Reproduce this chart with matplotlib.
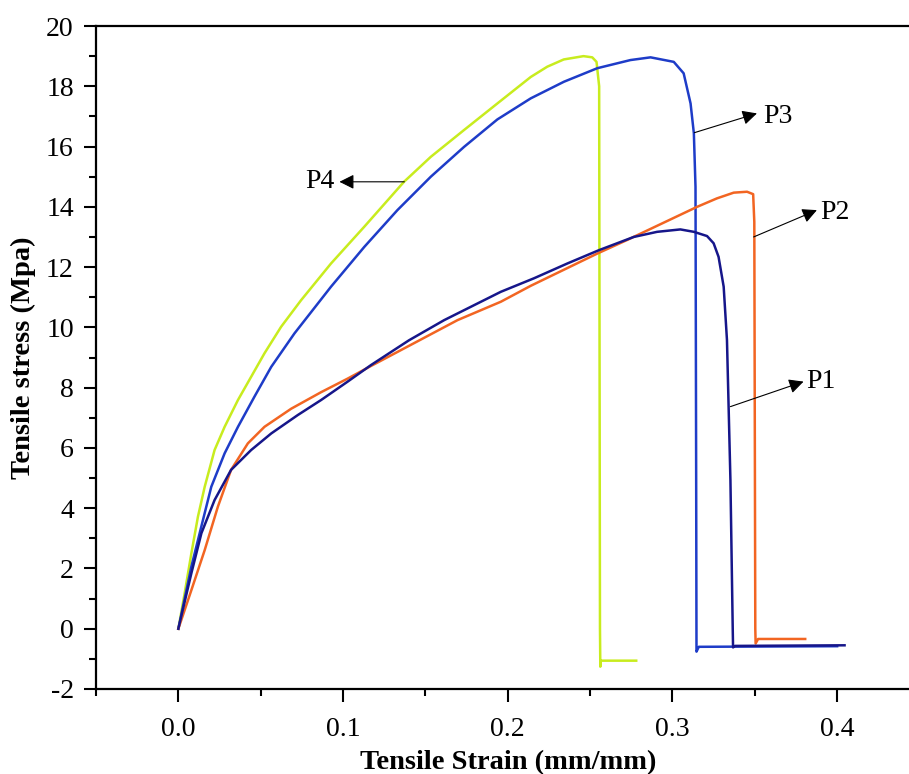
import matplotlib
matplotlib.use('Agg')
import matplotlib.pyplot as plt
from matplotlib.ticker import MultipleLocator

# strain (mm/mm) / stress (MPa)
p1_strain = [0, 0.0079, 0.014, 0.022, 0.032, 0.0442, 0.0564, 0.0725, 0.0867, 0.1028,
             0.117, 0.14, 0.1614, 0.1958, 0.216, 0.2362, 0.2553, 0.2765, 0.2907,
             0.3048, 0.313, 0.321, 0.325, 0.328, 0.3311, 0.3331, 0.3352, 0.3366,
             0.3368, 0.338, 0.4045]
p1_stress = [0, 1.84, 3.17, 4.27, 5.27, 5.93, 6.48, 7.09, 7.59, 8.20,
             8.75, 9.57, 10.24, 11.18, 11.63, 12.12, 12.56, 13.0, 13.17,
             13.25, 13.17, 13.03, 12.79, 12.34, 11.35, 9.58, 4.93, 0.0,
             -0.62, -0.57, -0.55]

p2_strain = [0, 0.0018, 0.0079, 0.016, 0.024, 0.032, 0.0422, 0.0523, 0.0685, 0.0867,
             0.1028, 0.117, 0.1695, 0.1958, 0.214, 0.2544, 0.2725, 0.315, 0.327,
             0.3372, 0.3453, 0.349, 0.3497, 0.3503, 0.3505, 0.352, 0.3806]
p2_stress = [0, 0.29, 1.28, 2.61, 4.05, 5.27, 6.15, 6.70, 7.30, 7.85,
             8.30, 8.72, 10.24, 10.85, 11.38, 12.45, 12.9, 14.0, 14.28,
             14.47, 14.5, 14.42, 13.5, 0.0, -0.49, -0.34, -0.34]

p3_strain = [0, 0.0079, 0.0139, 0.02, 0.0281, 0.0362, 0.0462, 0.0564, 0.0705, 0.0927,
             0.1129, 0.133, 0.1533, 0.1735, 0.1937, 0.214, 0.2341, 0.2544, 0.2745,
             0.2867, 0.3008, 0.3068, 0.311, 0.313, 0.314, 0.3144, 0.3146, 0.316,
             0.40]
p3_stress = [0, 2.06, 3.38, 4.71, 5.82, 6.70, 7.70, 8.69, 9.80, 11.35,
             12.67, 13.89, 15.0, 15.99, 16.9, 17.6, 18.15, 18.6, 18.87,
             18.96, 18.81, 18.43, 17.43, 16.44, 14.66, 5.0, -0.76, -0.60,
             -0.58]

p4_strain = [0, 0.0038, 0.0079, 0.0119, 0.016, 0.022, 0.0281, 0.0362, 0.0442, 0.0523,
             0.0624, 0.0745, 0.0927, 0.1129, 0.137, 0.1533, 0.1735, 0.1937, 0.214,
             0.224, 0.234, 0.246, 0.2513, 0.2539, 0.2555, 0.256, 0.2562, 0.2565,
             0.278]
p4_stress = [0, 1.17, 2.50, 3.72, 4.71, 5.93, 6.70, 7.59, 8.36, 9.14,
             10.02, 10.9, 12.12, 13.34, 14.83, 15.66, 16.55, 17.43, 18.31,
             18.65, 18.89, 19.0, 18.96, 18.81, 18.0, 0.0, -1.26, -1.06,
             -1.06]

# label: (arrow start on curve, arrow tip, text position)
labels = ['P1', 'P2', 'P3', 'P4']
arrow_from = [(0.3352, 7.37), (0.3493, 13.0), (0.3133, 16.46), (0.1372, 14.83)]
arrow_to = [(0.3796, 8.2), (0.3877, 13.89), (0.3513, 17.1), (0.0978, 14.83)]
text_at = [(0.381, 8.19), (0.3897, 13.82), (0.355, 17.0), (0.0945, 14.83)]
text_ha = ['left', 'left', 'left', 'right']

plt.rcParams['font.family'] = ['Liberation Serif', 'DejaVu Serif']
plt.rcParams['axes.unicode_minus'] = False

fig = plt.figure(figsize=(9.09, 7.74), dpi=100)
ax = fig.add_axes([96 / 909, 85 / 774, 823.5 / 909, 663 / 774])

ax.plot(p4_strain, p4_stress, color='#c8ec1e', lw=1.8)
ax.plot(p3_strain, p3_stress, color='#1e3cc8', lw=1.8)
ax.plot(p2_strain, p2_stress, color='#f26522', lw=1.8)
ax.plot(p1_strain, p1_stress, color='#16168a', lw=1.8)

for i in range(len(labels)):
    ax.annotate('', xy=arrow_to[i], xytext=arrow_from[i],
                arrowprops=dict(arrowstyle='-|>', color='black', lw=0.8,
                                mutation_scale=22, shrinkA=0, shrinkB=0))
    ax.text(text_at[i][0], text_at[i][1], labels[i], ha=text_ha[i], va='center',
            fontsize=20)

ax.set_xlim(-0.05, 0.45)
ax.set_ylim(-2, 20)
ax.xaxis.set_minor_locator(MultipleLocator(0.05))
ax.yaxis.set_major_locator(MultipleLocator(2))
ax.yaxis.set_minor_locator(MultipleLocator(1))
ax.set_xticks([0.0, 0.1, 0.2, 0.3, 0.4])
ax.set_xticklabels(['0.0', '0.1', '0.2', '0.3', '0.4'])

ax.tick_params(which='major', direction='out', length=9, width=1.5, labelsize=20, pad=7)
ax.tick_params(axis='x', which='major', pad=11)
ax.tick_params(which='minor', direction='out', length=5, width=1.5)
for s in ax.spines.values():
    s.set_linewidth(1.6)

ax.set_xlabel('Tensile Strain (mm/mm)', fontsize=20.5, fontweight='bold', labelpad=6)
ax.set_ylabel('Tensile stress (Mpa)', fontsize=20.5, fontweight='bold', labelpad=7)

fig.savefig('out.png', dpi=100)
